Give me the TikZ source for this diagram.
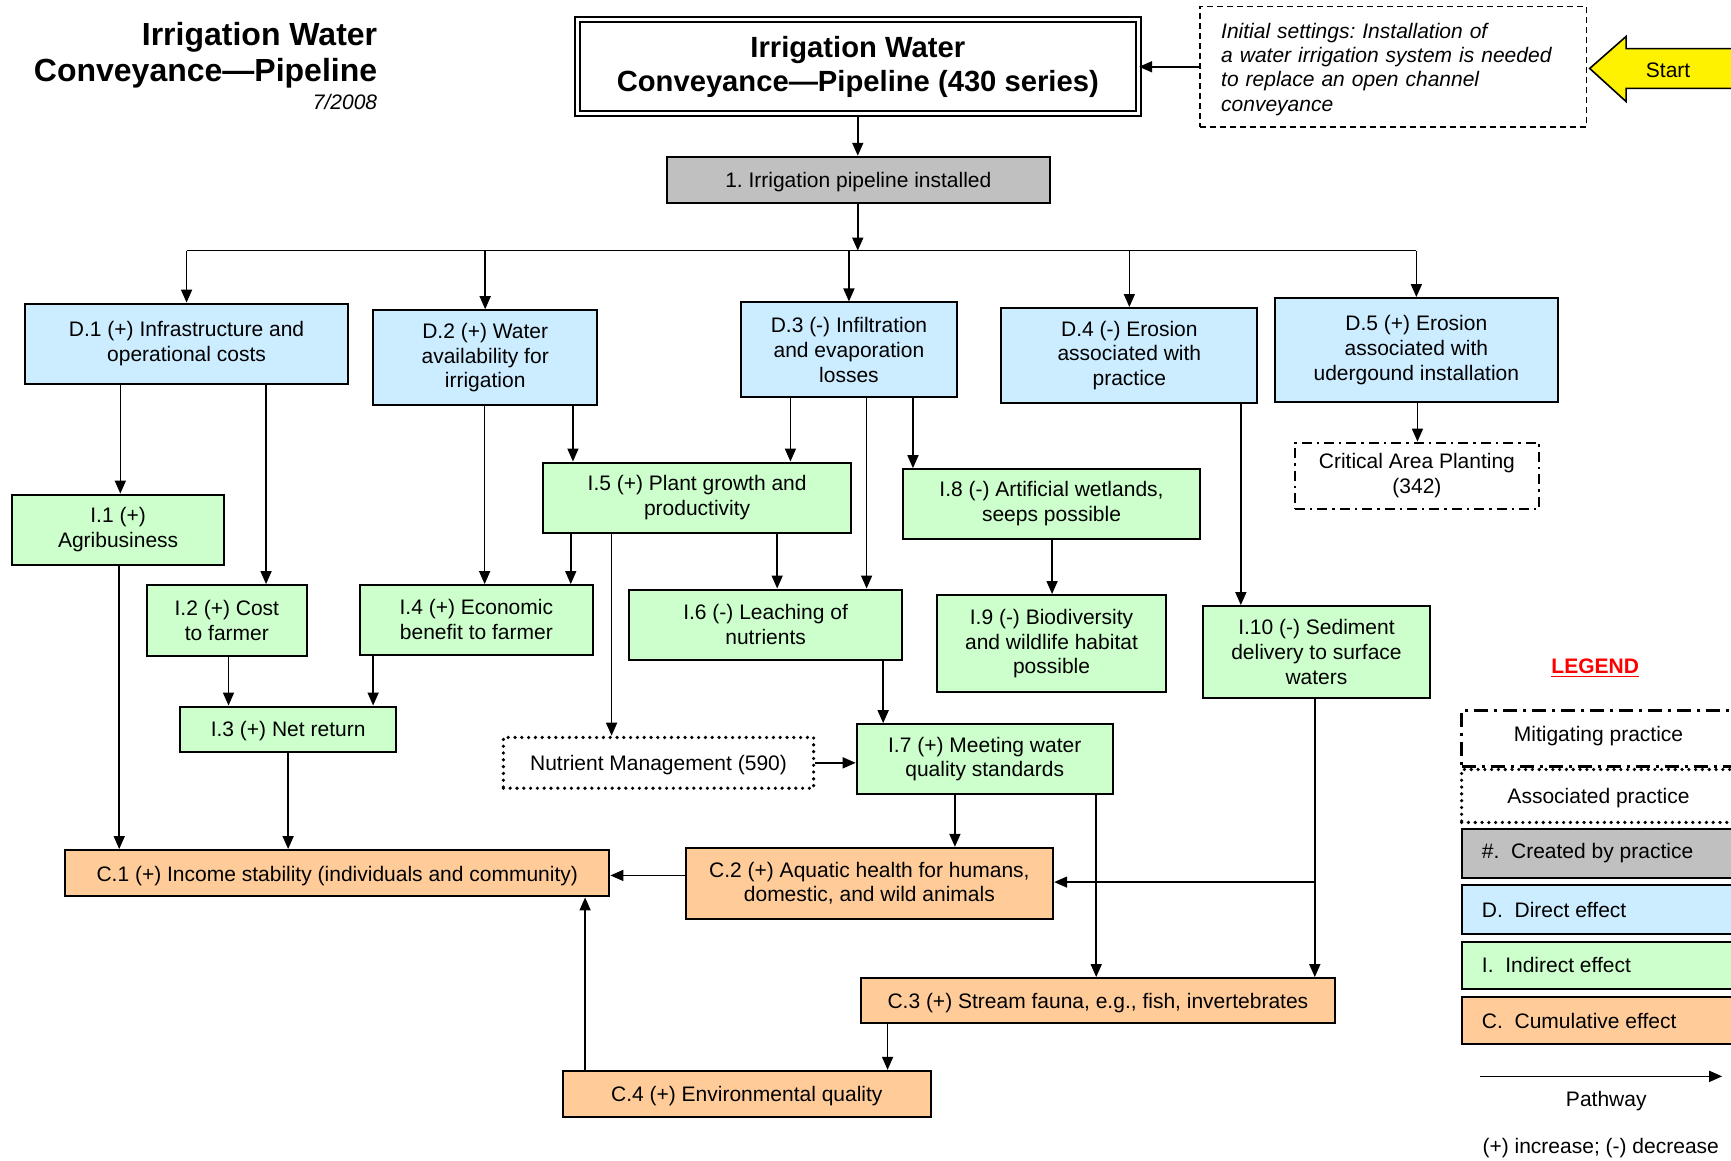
\documentclass[tikz,border=0pt]{standalone}
\usepackage{fontspec}
\setmainfont{Liberation Sans}
\usetikzlibrary{arrows.meta}
\frenchspacing

\definecolor{directblue}{HTML}{CCECFF}
\definecolor{indirectgreen}{HTML}{CCFFCC}
\definecolor{cumulorange}{HTML}{FFCC99}
\definecolor{practicegray}{HTML}{C0C0C0}

\tikzset{
	effect/.style={draw, line width=1pt, inner sep=0pt, align=center, execute at begin node={\rule{0pt}{10pt}}},
	direct/.style={effect, fill=directblue},
	indirect/.style={effect, fill=indirectgreen},
	cumul/.style={effect, fill=cumulorange},
	created/.style={effect, fill=practicegray},
	setting/.style={effect, line width=0.8pt, dash pattern=on 3pt off 2pt, text width=172pt, align=left, font=\fontsize{10.5}{12.2}\selectfont\itshape},
	mitigating/.style={effect, line width=1.1pt, dash pattern=on 5pt off 2.5pt on 1.2pt off 2.5pt},
	associated/.style={effect, line width=1.8pt, line cap=round, dash pattern=on 0pt off 3.4pt},
	pathway/.style={-{Triangle[length=6.5pt,width=5.5pt]}, line width=0.8pt},
}
% box from corner (x1,y1) to corner (x2,y2), in picture units
\def\effbox[#1](#2)(#3,#4)(#5,#6)#7{\node[#1, minimum width={(#5-#3)*0.552pt}, minimum height={(#6-#4)*0.552pt}] (#2) at ({(#3+#5)/2},{(#4+#6)/2}) {#7};}
\def\downlink(#1)(#2)(#3){\draw[pathway] (#1.south -| #3,0) -- (#2.north -| #3,0);}

\begin{document}
\begin{tikzpicture}[x=0.552pt, y=-0.552pt, font=\fontsize{10.5}{12.4}\selectfont]
		%%%%% START %%%%%
		\useasboundingbox (0,0) rectangle (1568,1051);
		\clip (0,0) rectangle (1568,1051);
		
		\node[anchor=east, align=right, inner sep=0pt, font=\fontsize{16}{18.2}\selectfont\bfseries] (title) at (342,50) {Irrigation Water\\Conveyance---Pipeline};
		\node[anchor=east, inner sep=0pt, font=\fontsize{10.5}{12}\selectfont\itshape] (date) at (342,92) {7/2008};
		
		\effbox[effect, double, double distance=1.6pt, line width=0.9pt, execute at begin node={\rule{0pt}{14pt}}, font=\fontsize{14.6}{17.2}\selectfont\bfseries](main)(523,18)(1031,103){Irrigation Water\\Conveyance---Pipeline (430 series)}
		\effbox[setting](init)(1087,6)(1437,115){Initial settings: Installation of\\a water irrigation system is needed\\to replace an open channel\\conveyance}
		
		\filldraw[fill=yellow, line width=0.8pt] (1440,62) -- (1473,33) -- (1473,44) -- (1580,44) -- (1580,80) -- (1473,80) -- (1473,92) -- cycle;
		\node (start) at (1511,64) {Start};
		
		\effbox[created](pipe)(604,142)(951,184){1. Irrigation pipeline installed}
		\coordinate (bus) at (777,227);
		
		% direct effects
		\effbox[direct](d1)(23,275)(315,348){D.1 (+) Infrastructure and\\operational costs}
		\effbox[direct](d2)(338,281)(541,367){D.2 (+) Water\\availability for\\irrigation}
		\effbox[direct](d3)(671,274)(867,360){D.3 (-) Infiltration\\and evaporation\\losses}
		\effbox[direct](d4)(907,279)(1139,365){D.4 (-) Erosion\\associated with\\practice}
		\effbox[direct](d5)(1155,270)(1411,364){D.5 (+) Erosion\\associated with\\udergound installation}
		\effbox[mitigating](cap)(1173,401)(1394,461){Critical Area Planting\\(342)}
		
		% indirect effects
		\effbox[indirect](i1)(11,448)(203,512){I.1 (+)\\Agribusiness}
		\effbox[indirect](i2)(133,530)(278,594){I.2 (+) Cost\\to farmer}
		\effbox[indirect](i3)(163,640)(359,681){I.3 (+) Net return}
		\effbox[indirect](i4)(326,530)(537,593){I.4 (+) Economic\\benefit to farmer}
		\effbox[indirect](i5)(492,419)(771,483){I.5 (+) Plant growth and\\productivity}
		\effbox[indirect](i6)(570,534)(817,598){I.6 (-) Leaching of\\nutrients}
		\effbox[indirect](i7)(776,656)(1008,719){I.7 (+) Meeting water\\quality standards}
		\effbox[indirect](i8)(818,425)(1087,488){I.8 (-) Artificial wetlands,\\seeps possible}
		\effbox[indirect](i9)(849,539)(1056,627){I.9 (-) Biodiversity\\and wildlife habitat\\possible}
		\effbox[indirect](i10)(1090,549)(1295,632){I.10 (-) Sediment\\delivery to surface\\waters}
		\effbox[associated](nm)(456,668)(737,714){Nutrient Management (590)}
		
		% cumulative effects
		\effbox[cumul](c1)(59,770)(552,812){C.1 (+) Income stability (individuals and community)}
		\effbox[cumul](c2)(621,768)(954,832){C.2 (+) Aquatic health for humans,\\domestic, and wild animals}
		\effbox[cumul](c3)(780,886)(1209,927){C.3 (+) Stream fauna, e.g., fish, invertebrates}
		\effbox[cumul](c4)(510,970)(843,1012){C.4 (+) Environmental quality}
		
		% pathways
		\draw[pathway] (init.west) -- (main.east);
		\draw[pathway] (main.south) -- (main.south |- pipe.north);
		\draw[pathway] (pipe.south -| bus) -- (bus);
		\draw[line width=0.8pt] (d1.north |- bus) -- (d5.north |- bus);
		\foreach \n in {d1,d2,d3,d4,d5}
			\draw[pathway] (\n.north |- bus) -- (\n.north);
		
		\downlink(d1)(i1)(109)
		\downlink(d1)(i2)(241)
		\downlink(d2)(i4)(439)
		\downlink(d2)(i5)(519)
		\downlink(d3)(i5)(716)
		\downlink(d3)(i6)(785)
		\downlink(d3)(i8)(827)
		\downlink(d4)(i10)(1124)
		\downlink(d5)(cap)(1284)
		\downlink(i5)(i4)(517)
		\downlink(i5)(nm)(554)
		\downlink(i5)(i6)(704)
		\downlink(i8)(i9)(953)
		\downlink(i6)(i7)(800)
		\downlink(i2)(i3)(207)
		\downlink(i4)(i3)(338)
		\downlink(i1)(c1)(108)
		\downlink(i3)(c1)(261)
		\downlink(i7)(c2)(865)
		\downlink(i7)(c3)(993)
		\downlink(i10)(c3)(1191)
		\downlink(c3)(c4)(804)
		
		\draw[pathway] (nm.east) -- (i7.west |- nm.east);
		\draw[pathway] (i10.south |- 0,799) -- (c2.east |- 0,799);
		\draw[pathway] (c2.west |- 0,793) -- (c1.east |- 0,793);
		\draw[pathway] (c4.north -| 530,0) -- (c1.south -| 530,0);
		
		% legend
		\node[text=red, font=\fontsize{10.5}{12.4}\selectfont\bfseries] (legend) at (1445,605) {\underline{LEGEND}};
		\effbox[mitigating, line width=1.5pt, dash pattern=on 7pt off 3pt on 1.5pt off 3pt](lgmit)(1324,644)(1600,694){}
		\node (lgmittext) at (1448,667) {Mitigating practice};
		\effbox[associated](lgassoc)(1324,697)(1600,745){}
		\node (lgassoctext) at (1448,723) {Associated practice};
		\effbox[created](lgcreated)(1324,751)(1600,795){}
		\node[anchor=west] (lgcreatedtext) at (1336,773) {\#.\ \ Created by practice};
		\effbox[direct](lgdirect)(1324,802)(1600,846){}
		\node[anchor=west] (lgdirecttext) at (1336,824) {D.\ \ Direct effect};
		\effbox[indirect](lgindirect)(1324,853)(1600,896){}
		\node[anchor=west] (lgindirecttext) at (1336,874) {I.\ \ Indirect effect};
		\effbox[cumul](lgcumul)(1324,903)(1600,946){}
		\node[anchor=west] (lgcumultext) at (1336,925) {C.\ \ Cumulative effect};
		
		\coordinate (pwstart) at (1341,975);
		\coordinate (pwend) at (1560,975);
		\draw[pathway] (pwstart) -- (pwend);
		\node (pwtext) at (1455,997) {Pathway};
		\node (signs) at (1450,1040) {(+) increase; (-) decrease};
		
		%%%%% END %%%%%
\end{tikzpicture}
\end{document}
